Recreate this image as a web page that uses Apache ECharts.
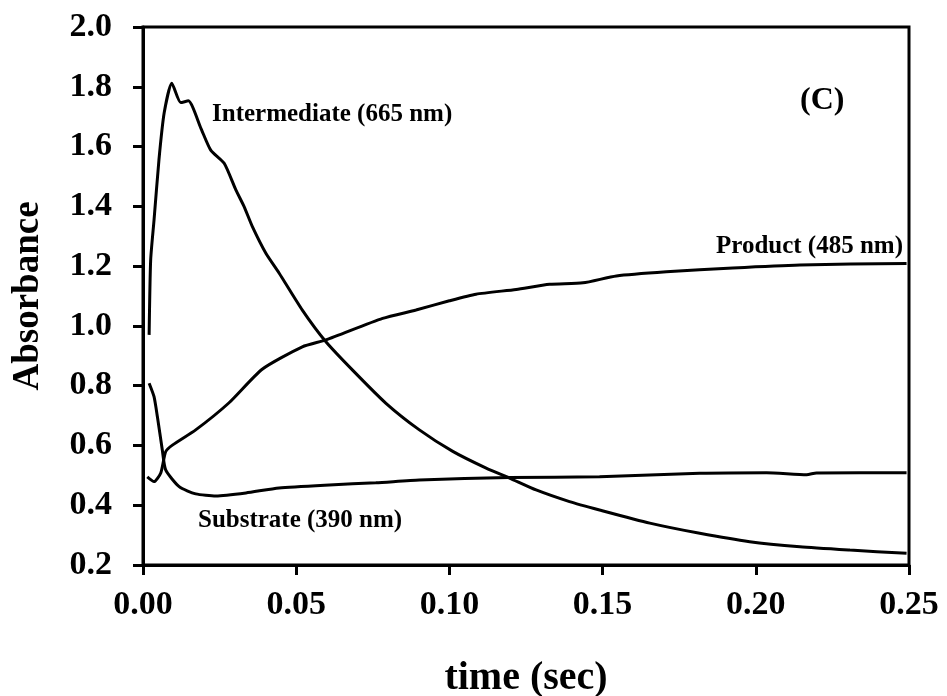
<!DOCTYPE html>
<html>
<head>
<meta charset="utf-8">
<script src="https://cdn.jsdelivr.net/npm/echarts@6/dist/echarts.min.js"></script>
<style>html,body{margin:0;padding:0;background:#fff;}#chart{width:947px;height:696px;}</style>
</head>
<body>
<div id="chart"></div>
<script>
// Intermediate (665 nm)
const intermediateTime = [0.0020,0.0025,0.0036,0.0052,0.0069,0.0094,0.0123,0.0148,0.0189,0.0221,0.0265,0.0303,0.0330,0.0357,0.0401,0.0444,0.0520,0.0597,0.0684,0.0793,0.0902,0.1011,0.1120,0.1196,0.1283,0.1392,0.1490,0.1654,0.1817,0.1980,0.2144,0.2307,0.2492];
const intermediateAbs  = [0.970,1.220,1.354,1.555,1.712,1.812,1.747,1.753,1.661,1.588,1.544,1.455,1.399,1.332,1.243,1.177,1.053,0.947,0.852,0.741,0.652,0.580,0.524,0.491,0.451,0.412,0.384,0.340,0.306,0.278,0.261,0.250,0.239];
// Product (485 nm)
const productTime = [0.0014,0.0036,0.0058,0.0074,0.0096,0.0172,0.0280,0.0389,0.0520,0.0597,0.0782,0.0891,0.1000,0.1087,0.1218,0.1327,0.1436,0.1545,0.1708,0.1925,0.2144,0.2492];
const productAbs  = [0.495,0.479,0.508,0.579,0.601,0.652,0.742,0.855,0.930,0.953,1.025,1.053,1.084,1.106,1.122,1.139,1.144,1.167,1.181,1.194,1.204,1.209];
// Substrate (390 nm)
const substrateTime = [0.0020,0.0036,0.0047,0.0063,0.0074,0.0118,0.0172,0.0238,0.0336,0.0444,0.0608,0.0760,0.0902,0.1196,0.1490,0.1817,0.2035,0.2166,0.2198,0.2492];
const substrateAbs  = [0.808,0.763,0.696,0.585,0.518,0.462,0.438,0.431,0.441,0.458,0.468,0.475,0.484,0.493,0.495,0.507,0.509,0.502,0.508,0.509];

const seriesNames = ['Intermediate (665 nm)','Product (485 nm)','Substrate (390 nm)'];
const panelLabel = '(C)';
const xTitle = 'time (sec)';
const yTitle = 'Absorbance';

function pairs(t, a){ return t.map((v,i)=>[v,a[i]]); }

const FONT = '"Liberation Serif","Times New Roman",serif';
const chart = echarts.init(document.getElementById('chart'));
const lineStyle = {color:'#000', width:3};
chart.setOption({
  animation:false,
  backgroundColor:'#fff',
  grid:{left:143, right:38, top:27, bottom:131, show:true, borderColor:'#000', borderWidth:3, containLabel:false, outerBoundsMode:'none'},
  xAxis:{
    type:'value', min:0, max:0.25, interval:0.05,
    name:xTitle, nameLocation:'middle', nameGap:94,
    nameTextStyle:{fontFamily:FONT, fontWeight:'bold', fontSize:40, color:'#000'},
    axisLine:{lineStyle:{color:'#000', width:3}},
    axisTick:{show:true, length:10, lineStyle:{color:'#000', width:3}},
    axisLabel:{margin:23, fontFamily:FONT, fontWeight:'bold', fontSize:34, color:'#000', formatter:v=>v.toFixed(2)},
    splitLine:{show:false}
  },
  yAxis:{
    type:'value', min:0.2, max:2.0, interval:0.2,
    name:yTitle, nameLocation:'middle', nameGap:96,
    nameTextStyle:{fontFamily:FONT, fontWeight:'bold', fontSize:37, color:'#000'},
    axisLine:{lineStyle:{color:'#000', width:3}},
    axisTick:{show:true, length:10, lineStyle:{color:'#000', width:3}},
    axisLabel:{margin:31, fontFamily:FONT, fontWeight:'bold', fontSize:34, color:'#000', formatter:v=>v.toFixed(1)},
    splitLine:{show:false}
  },
  series:[
    {name:seriesNames[0], type:'line', data:pairs(intermediateTime,intermediateAbs), showSymbol:false, smooth:0.2, lineStyle},
    {name:seriesNames[1], type:'line', data:pairs(productTime,productAbs), showSymbol:false, smooth:0.2, lineStyle},
    {name:seriesNames[2], type:'line', data:pairs(substrateTime,substrateAbs), showSymbol:false, smooth:0.2, lineStyle}
  ],
  graphic:[
    {type:'text', x:212, y:115, style:{text:seriesNames[0], font:'bold 25px '+FONT, fill:'#000', align:'left', verticalAlign:'middle'}},
    {type:'text', x:903, y:247, style:{text:seriesNames[1], font:'bold 25px '+FONT, fill:'#000', align:'right', verticalAlign:'middle'}},
    {type:'text', x:198, y:521, style:{text:seriesNames[2], font:'bold 25px '+FONT, fill:'#000', align:'left', verticalAlign:'middle'}},
    {type:'text', x:800, y:101, style:{text:panelLabel, font:'bold 32px '+FONT, fill:'#000', align:'left', verticalAlign:'middle'}}
  ]
});
</script>
</body>
</html>
